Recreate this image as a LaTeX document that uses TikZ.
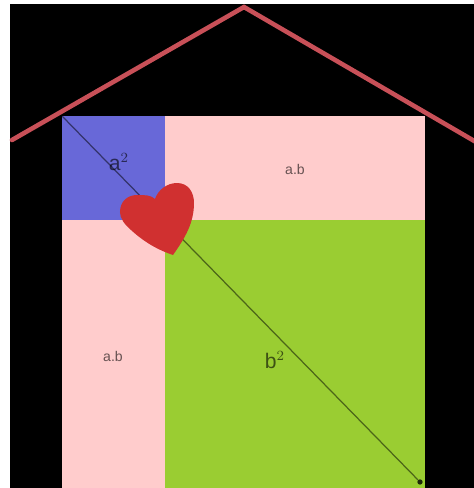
\documentclass[tikz,border=0pt]{standalone}
\usepackage{fontspec}
\setmainfont{Liberation Sans}
\usetikzlibrary{positioning}
\tikzstyle{part} = [inner sep=0pt, outer sep=0pt, text centered]
\tikzstyle{roof} = [line width=2.6pt, draw={rgb,255:red,200;green,80;blue,88}, line cap=round, line join=miter]
\tikzstyle{diag} = [line width=0.7pt, draw=black, opacity=0.5]
\tikzstyle{lab} = [font=\small, text=black, text opacity=0.6]
\definecolor{squareblue}{RGB}{104,104,216}
\definecolor{squarepink}{RGB}{255,204,204}
\definecolor{squaregreen}{RGB}{154,205,50}
\definecolor{heartred}{RGB}{208,48,48}
\begin{document}
\begin{tikzpicture}[x=0.02cm,y=0.02cm]
        \useasboundingbox (0,0) rectangle (474,488);
        \fill[black] (10,0) rectangle (474,484);

        % Squares
        \node (asq) [part, fill=squareblue, minimum width=2.06cm, minimum height=2.08cm, anchor=north west] at (62,372) {};
        \node (abtop) [part, fill=squarepink, minimum width=5.2cm, minimum height=2.08cm, right=0pt of asq] {};
        \node (ableft) [part, fill=squarepink, minimum width=2.06cm, minimum height=5.36cm, below=0pt of asq] {};
        \node (bsq) [part, fill=squaregreen, minimum width=5.2cm, minimum height=5.36cm, below=0pt of abtop] {};

        % Roof
        \coordinate (eaveleft) at (12,348);
        \coordinate (apex) at (244,481);
        \coordinate (eaveright) at (476,346);
        \draw[roof] (eaveleft) -- (apex) -- (eaveright);

        % Diagonal
        \node (corner) [circle, fill=black, opacity=0.8, minimum size=3pt, inner sep=0pt] at (420,6) {};
        \draw[diag] (asq.north west) -- (corner);

        % Labels
        \node (alab) [lab, font=\large] at (119,326) {a$^{2}$};
        \node (abtoplab) [lab, font=\footnotesize] at (295,319) {a.b};
        \node (ableftlab) [lab, font=\footnotesize] at (113,132) {a.b};
        \node (blab) [lab, font=\large] at (275,128) {b$^{2}$};

        % Heart
        \fill[heartred] (173,233) .. controls (158,238) and (144,246) .. (131,258)
            .. controls (124,264) and (120,270) .. (120,276)
            .. controls (120,287) and (128,293) .. (137,293)
            .. controls (145,293) and (151,293) .. (155,289)
            .. controls (158,298) and (167,305) .. (177,305)
            .. controls (188,305) and (194,296) .. (194,285)
            .. controls (194,265) and (185,250) .. (173,233);
    \end{tikzpicture}
\end{document}
